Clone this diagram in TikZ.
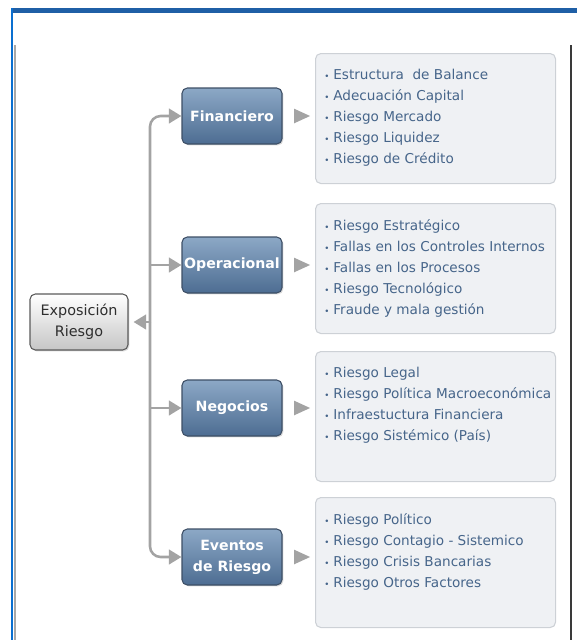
\documentclass[tikz,border=0pt]{standalone}
\usepackage{fontspec}
\setmainfont{DejaVu Sans}
\usetikzlibrary{arrows.meta,shapes.geometric,shadows}

\definecolor{framebar}{HTML}{1F5FA6}
\definecolor{frameside}{HTML}{0A6FD0}
\definecolor{framegrey}{HTML}{A8A8A8}
\definecolor{framedark}{HTML}{3A3A3A}
\definecolor{connline}{HTML}{A3A3A3}
\definecolor{cattop}{HTML}{8CA8C6}
\definecolor{catbot}{HTML}{4D6D92}
\definecolor{catline}{HTML}{3D4F66}
\definecolor{rootbot}{HTML}{C6C6C6}
\definecolor{rootline}{HTML}{5A5A5A}
\definecolor{rootink}{HTML}{2E2E2E}
\definecolor{listfill}{HTML}{EFF1F4}
\definecolor{listline}{HTML}{CDD1D6}
\definecolor{listink}{HTML}{46658A}

\newcommand\itm{{\fontsize{6.5}{6.5}\selectfont\textbullet}\hspace{3pt}}

\tikzset{
  rootbox/.style={draw=rootline, line width=0.8pt, rounded corners=4pt,
    top color=white, bottom color=rootbot, minimum width=73.5pt,
    minimum height=42pt, align=center, text=rootink,
    font=\fontsize{10.8}{15.75}\selectfont,
    drop shadow={shadow xshift=1pt, shadow yshift=-1pt, opacity=0.3}},
  catbox/.style={draw=catline, line width=0.8pt, rounded corners=4pt,
    top color=cattop, bottom color=catbot, minimum width=75pt,
    minimum height=42pt, align=center, text=white, inner xsep=1pt,
    font=\bfseries\fontsize{10.6}{15.75}\selectfont,
    drop shadow={shadow xshift=1pt, shadow yshift=-1pt, opacity=0.3}},
  listbox/.style={draw=listline, line width=0.8pt, fill=listfill,
    rounded corners=4pt, minimum width=180pt, minimum height=97.5pt,
    anchor=north west},
  listtext/.style={anchor=north west, align=left, inner sep=0pt,
    text=listink, font=\fontsize{10.2}{15.75}\selectfont},
  conn/.style={draw=connline, line width=1.9pt},
  tip/.style={-{Triangle[length=9.5pt,width=11pt]}},
  pointer/.style={isosceles triangle, isosceles triangle stretches,
    fill=connline, inner sep=0pt, minimum height=12pt, minimum width=11pt}
}

\begin{document}
\begin{tikzpicture}[x=0.75pt,y=-0.75pt]
\useasboundingbox (0,0) rectangle (577,640);
% frame
\fill[framebar] (11,8) rectangle (577,13);
\fill[frameside] (11,8) rectangle (13,640);
\draw[framegrey, line width=1.5pt] (15,45) -- (15,640);
\draw[framedark, line width=1.2pt] (571,45) -- (571,640);

\node[rootbox] (root) at (79,322) {Exposición\\Riesgo};
\coordinate (tr) at (150,322);

\foreach \n/\lab/\y/\ly/\items in {
  fin/Financiero/116/53/{\itm Estructura\ \ de Balance\\\itm Adecuación Capital\\\itm Riesgo Mercado\\\itm Riesgo Liquidez\\\itm Riesgo de Crédito},
  ope/Operacional/265/203/{\itm Riesgo Estratégico\\\itm Fallas en los Controles Internos\\\itm Fallas en los Procesos\\\itm Riesgo Tecnológico\\\itm Fraude y mala gestión},
  neg/Negocios/408/351/{\itm Riesgo Legal\\\itm Riesgo Política Macroeconómica\\\itm Infraestuctura Financiera\\\itm Riesgo Sistémico (País)},
  eve/{Eventos\\de Riesgo}/557/497/{\itm Riesgo Político\\\itm Riesgo Contagio - Sistemico\\\itm Riesgo Crisis Bancarias\\\itm Riesgo Otros Factores}} {
  \node[catbox] (\n) at (232,\y) {\lab};
  \node[listbox] (\n box) at (315,\ly) {};
  \node[listtext] (\n list) at ([shift={(9,16)}]\n box.north west) {\items};
  \path (\n.east) -- node[pointer] {} (\n.east -| \n box.west);
}

% trunk and branches
\draw[conn, tip, shorten >=3.75pt] (tr) -- (root.east);
\draw[conn, tip, rounded corners=8pt] (tr) |- (fin.west);
\draw[conn, tip, rounded corners=8pt] (tr) |- (eve.west);
\draw[conn, tip] (tr |- ope.west) -- (ope.west);
\draw[conn, tip] (tr |- neg.west) -- (neg.west);
\end{tikzpicture}
\end{document}
